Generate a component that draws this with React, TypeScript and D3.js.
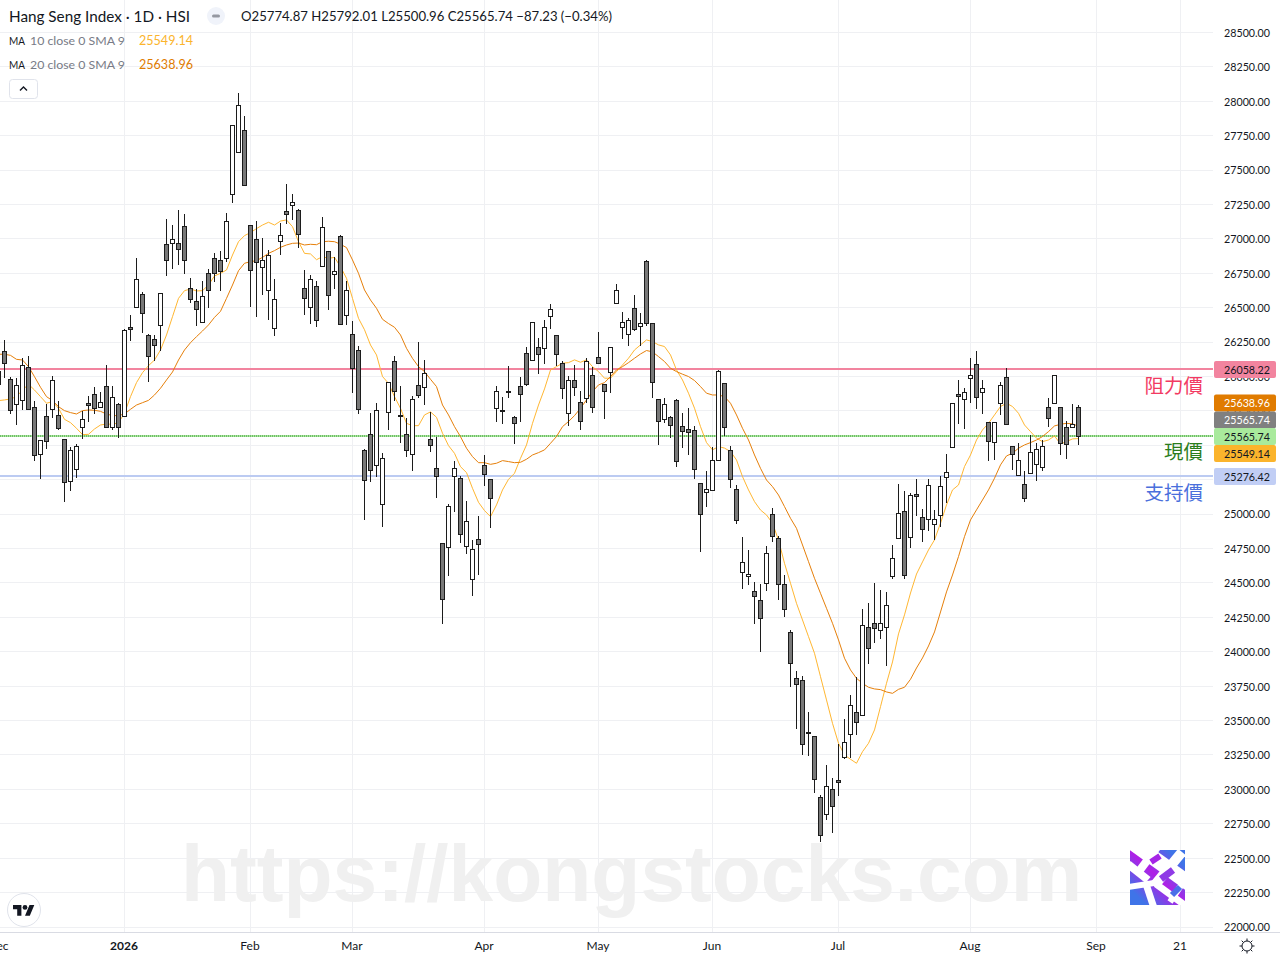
import * as React from 'react';
import * as d3 from 'd3';

// bars start one day before the left edge, one bar every 6px
const firstBar = -1;

const opens = [26033,26183,25980,25798,25825,26067,25777,25433,25711,25760,25718,25544,25236,25324,25629,25801,25871,25776,25929,25629,25798,25709,26358,26501,26598,26300,26271,26370,26961,26966,26968,27092,26641,26547,26392,26750,26859,
  26844,26859,27324,27627,27789,27099,26997,26791,26624,26348,26980,27201,27244,27208,26641,26503,26656,26798,26910,26743,27019,26445,26307,26191,
  25464,25580,25353,25069,25738,26111,25718,25580,25433,25936,25919,25544,25333,24788,24757,25273,25261,24764,24524,24817,25355,25253,25769,25755,25893,25704,25929,26169,26116,26212,
  26203,26438,26300,26097,25733,25973,25813,25842,26009,26140,25944,26031,26532,26358,26307,26496,26365,26838,26387,25835,25690,25704,25828,25639,25617,25610,25225,25159,25174,25389,25951,25464,25181,
  24577,24548,24439,24374,24498,25001,24824,24490,24142,23807,23793,23415,23386,22943,22819,23001,23066,23233,23400,23560,23538,24178,24207,24156,24178,
  24549,24825,25021,24832,25145,24977,24963,24927,24992,25268,25486,25871,25835,25987,26089,25886,25668,25522,25806,25995,25493,25283,25217,25297,25363,25341,25777,25806,25777,25631,25631,25774.87];
const highs = [26072,26266,25999,25990,26133,26150,25823,25539,25801,26002,25823,25544,25491,25508,25752,25859,25924,25888,26084,25929,25806,26343,26447,26862,26612,26309,26300,26605,27145,27101,27210,27181,26716,26636,26694,26779,26898,
  26912,27186,27825,28058,27893,27099,27130,27004,26920,26706,27113,27399,27326,27215,26772,26736,26694,27157,26910,26866,27029,26694,26404,26220,
  25470,25735,25806,25442,25958,26149,25931,25699,25859,26249,26120,25740,25563,24788,25074,25386,25278,25096,24812,24987,25430,25253,25931,25849,26077,25711,25997,26212,26399,26280,
  26411,26528,26300,26111,26005,26082,25895,26133,26067,26324,25944,26213,26673,26470,26424,26593,26462,26847,26387,25835,25842,25711,25835,25736,25770,25639,25225,25314,25486,26048,25951,25493,25210,
  24832,24737,24505,24493,24766,25043,24839,24556,24156,23858,23822,23563,23386,22960,23178,23081,23330,23512,23686,23817,24311,24355,24498,24449,24432,
  24776,25220,25169,25154,25256,25038,25256,25031,25275,25435,25806,25975,25915,26135,26186,25973,25668,25668,25961,26060,25493,25518,25314,25576,25518,25539,25845,26009,25777,25677,25801,25792.01];
const lows = [25902,25992,25728,25648,25757,25757,25389,25256,25474,25699,25612,25089,25169,25263,25549,25670,25728,25776,25629,25612,25554,25709,26258,26501,26319,25961,26113,26186,26731,26782,26811,26745,26535,26368,26392,26498,26687,
  26622,26835,27264,27622,27390,26505,26433,26593,26411,26295,26883,27109,27138,26934,26447,26382,26360,26798,26484,26636,26380,26375,25881,25728,
  24958,25234,25270,24907,25612,25822,25517,25416,25314,25847,25793,25452,25118,24202,24551,25016,24788,24713,24406,24558,25205,24900,25670,25655,25844,25510,25670,25930,26116,26019,
  26092,26346,26077,25837,25644,25859,25612,25806,25736,26097,25692,25881,26528,26273,26222,26331,26222,26368,25845,25503,25661,25554,25343,25479,25430,25256,24726,25053,25170,25389,25569,25191,24929,
  24459,24485,24202,24001,24442,24798,24376,24253,23744,23439,23250,23243,22974,22618,22778,22683,22952,23221,23228,23396,23538,23911,24064,24093,23897,
  24527,24822,24527,24757,24990,24801,24878,24813,24910,25079,25486,25656,25619,25808,25765,25728,25387,25394,25721,25653,25321,25283,25089,25297,25241,25314,25634,25806,25430,25401,25624,25500.96];
const closes = [25939,26094,25752,25936,26082,25762,25425,25537,25527,25973,25621,25229,25464,25493,25689,25786,25767,25813,25629,25849,25629,26336,26341,26707,26457,26145,26225,26605,26842,26997,26922,26842,26561,26486,26583,26624,26748,
  26762,27128,27825,27971,27390,26769,26830,26844,26881,26561,27026,27176,27266,27033,26568,26706,26406,27084,26588,26765,26380,26627,26057,25759,
  25244,25319,25755,25406,25958,25890,25709,25462,25835,25861,26023,25498,25273,24379,25057,25333,24851,24948,24745,24779,25287,25113,25893,25747,25890,25658,25868,25941,26394,26159,
  26358,26489,26162,25915,25973,25922,25675,26111,25777,26097,25893,26213,26627,26394,26409,26344,26387,26387,25958,25675,25799,25646,25384,25602,25595,25326,25000,25181,25392,26038,25631,25254,24956,
  24650,24563,24401,24241,24716,24837,24490,24309,23916,23764,23328,23408,23073,22667,23023,22877,23052,23342,23611,23488,24192,24025,24171,24207,24338,
  24680,25007,24556,25137,25130,24890,25210,24963,25203,25304,25806,25857,25886,26009,25849,25915,25530,25668,25937,25653,25435,25392,25116,25450,25472,25493,25697,26009,25515,25508,25653,25565.74];

const ma10 = [25825,25830,25837,25854,25902,25944,25902,25854,25806,25818,25769,25689,25665,25624,25578,25580,25619,25648,25655,25653,25665,25733,25854,25956,26028,26079,26120,26193,26302,26435,26568,26624,26636,26622,26624,26665,26731,26750,
  26774,26883,26980,27024,27046,27075,27101,27121,27101,27130,27138,27089,26980,26895,26891,26849,26871,26859,26866,26798,26714,26568,26423,26340,26229,26157,26000,25951,25854,25769,25660,25643,25643,25721,25743,25704,25588,25498,25442,25345,25302,25188,25086,25026,24982,25067,25176,25253,25297,25406,25503,25660,25793,25910,26048,26072,
  26097,26101,26121,26104,26121,26072,26036,25988,25988,26036,26084,26133,26193,26230,26266,26254,26230,26218,26157,26048,25975,25879,25770,25636,25520,25467,25491,25480,25455,25394,25273,25176,25091,25030,24994,24934,24812,24643,24498,24352,24231,24110,23989,23819,23650,23480,23335,23250,23219,23190,23274,23335,23432,23601,23771,23926,24130,24268,24427,24565,24653,24740,24813,24934,25067,25176,25212,25346,25430,25539,25612,25660,25721,25782,25806,25782,25733,25648,25600,25552,25527,25539,25568,25510,25527,25547,25549.14];
const ma20 = [26162,26162,26154,26125,26120,26072,25999,25922,25854,25825,25781,25752,25738,25728,25752,25757,25755,25747,25728,25716,25716,25728,25762,25793,25810,25827,25866,25915,25975,26033,26120,26193,26246,26290,26331,26375,26430,26474,
  26568,26665,26769,26823,26835,26842,26866,26895,26915,26939,26956,26968,26970,26956,26961,26958,26980,26983,26980,26961,26937,26847,26750,26629,26556,26496,26416,26385,26358,26302,26205,26132,26072,26036,25980,25927,25793,25721,25636,25563,25479,25418,25374,25374,25362,25370,25389,25382,25374,25377,25399,25430,25447,25467,25515,25564,
  25636,25673,25716,25770,25830,25891,25939,25956,26000,26048,26072,26101,26133,26164,26189,26179,26145,26109,26060,26036,26017,26000,25971,25927,25879,25866,25866,25854,25806,25721,25624,25539,25430,25333,25248,25200,25139,25055,24970,24897,24776,24655,24534,24425,24316,24207,24086,23953,23868,23807,23771,23742,23730,23725,23708,23698,23727,23742,23800,23882,23955,24042,24144,24289,24435,24558,24692,24837,24958,25031,25103,25176,25261,25358,25423,25443,25479,25503,25520,25539,25564,25600,25641,25653,25660,25656,25638.96];

const priceTicks = d3.range(22000, 28501, 250);
const timeTicks = [-1, 20, 41, 58, 80, 99, 118, 139, 161, 182, 196];
const timeLabels = ['Dec', '2026', 'Feb', 'Mar', 'Apr', 'May', 'Jun', 'Jul', 'Aug', 'Sep', '21'];

const resistance = 26058.22;
const support = 25276.42;
const lastClose = 25565.74;
const lastMa10 = 25549.14;
const lastMa20 = 25638.96;

const uiFont = 'Lato, "Noto Sans", sans-serif';
const cjkFont = '"Noto Sans CJK TC", sans-serif';
const ink = '#131722';
const gridColor = '#eff0f3';

const x = d3.scaleLinear().domain([0, 179]).range([4.5, 1078.5]);
const y = d3.scaleLinear().domain([22000, 28500]).range([927, 32.5]);
const crisp = (v: number) => Math.round(v - 0.5) + 0.5;

const App = () => {
  const ref = React.useRef<SVGSVGElement>(null);

  React.useEffect(() => {
    const svg = d3.select(ref.current);
    svg.selectAll('*').remove();

    const defs = svg.append('defs');
    const grad = defs
      .append('linearGradient')
      .attr('id', 'logo')
      .attr('x1', 0)
      .attr('y1', 0)
      .attr('x2', 1)
      .attr('y2', 0);
    grad.append('stop').attr('offset', '0%').attr('stop-color', '#3f74e8');
    grad.append('stop').attr('offset', '50%').attr('stop-color', '#b01fe6');
    grad.append('stop').attr('offset', '100%').attr('stop-color', '#3f74e8');
    grad.attr('gradientTransform', 'rotate(-45 .5 .5)');

    // grid
    const grid = svg.append('g').attr('stroke', gridColor).attr('stroke-width', 1);
    grid
      .selectAll('line.h')
      .data(priceTicks)
      .join('line')
      .attr('x1', 0)
      .attr('x2', 1213)
      .attr('y1', (d) => crisp(y(d)))
      .attr('y2', (d) => crisp(y(d)));
    grid
      .selectAll('line.v')
      .data(timeTicks.slice(1))
      .enter()
      .append('line')
      .attr('x1', (d) => x(d))
      .attr('x2', (d) => x(d))
      .attr('y1', 0)
      .attr('y2', 932);

    // watermark
    svg
      .append('text')
      .attr('x', 181)
      .attr('y', 901)
      .attr('font-family', '"Liberation Sans", Arial, sans-serif')
      .attr('font-weight', 700)
      .attr('font-size', 80.3)
      .attr('fill', '#f0f0f0')
      .text('https://kongstocks.com');

    // logo
    const logo = svg.append('g').attr('transform', 'translate(1130,850)');
    logo.append('rect').attr('width', 55).attr('height', 55).attr('fill', 'url(#logo)');
    const clip = defs.append('clipPath').attr('id', 'logoClip');
    clip.append('rect').attr('width', 55).attr('height', 55);
    const strokes = logo.append('g').attr('clip-path', 'url(#logoClip)').attr('fill', 'none');
    [
      { d: 'M4 -6L60 34', w: 15, c: '#fff' },
      { d: 'M-2 14L18 30', w: 8, c: '#fff' },
      { d: 'M28 -4L10 20', w: 8, c: '#fff' },
      { d: 'M52 2L24 36', w: 10, c: '#fff' },
      { d: 'M-2 37L24 33', w: 6, c: '#fff' },
      { d: 'M16 34L24 58', w: 7, c: '#fff' },
      { d: 'M26 34L56 56', w: 7, c: '#fff' },
      { d: 'M56 28L40 52', w: 6, c: '#fff' },
      { d: 'M21 12L30 6', w: 6, c: '#a526e6' },
      { d: 'M31 29L43 20', w: 7, c: '#8f3be6' },
      { d: 'M42 45L50 37', w: 6, c: '#4a6fe8' },
    ].forEach((s) => strokes.append('path').attr('d', s.d).attr('stroke', s.c).attr('stroke-width', s.w));

    // levels, under the candles
    const levels = svg.append('g');
    levels
      .append('line')
      .attr('x1', 0)
      .attr('x2', 1213)
      .attr('y1', Math.round(y(resistance)))
      .attr('y2', Math.round(y(resistance)))
      .attr('stroke', '#f2849f')
      .attr('stroke-width', 2);
    levels
      .append('line')
      .attr('x1', 0)
      .attr('x2', 1213)
      .attr('y1', Math.round(y(support)))
      .attr('y2', Math.round(y(support)))
      .attr('stroke', '#bccbf2')
      .attr('stroke-width', 2);
    levels
      .append('line')
      .attr('x1', 0)
      .attr('x2', 1213)
      .attr('y1', Math.floor(y(lastClose)))
      .attr('y2', Math.floor(y(lastClose)))
      .attr('stroke', '#a9ea9c')
      .attr('stroke-width', 2);
    levels
      .append('line')
      .attr('x1', 0)
      .attr('x2', 1213)
      .attr('y1', Math.floor(y(lastClose)))
      .attr('y2', Math.floor(y(lastClose)))
      .attr('stroke', '#3a8a3a')
      .attr('stroke-width', 1)
      .attr('stroke-dasharray', '1 1');

    // moving averages
    const line = d3
      .line<number>()
      .x((_, i) => x(i + firstBar))
      .y((d) => y(d));
    svg
      .append('path')
      .attr('d', line(ma10))
      .attr('fill', 'none')
      .attr('stroke', '#ffb732')
      .attr('stroke-width', 1);
    svg
      .append('path')
      .attr('d', line(ma20))
      .attr('fill', 'none')
      .attr('stroke', '#e67f0a')
      .attr('stroke-width', 1);

    // candles
    const candle = svg
      .append('g')
      .selectAll('g')
      .data(opens.map((o, i) => ({ i: i + firstBar, o, h: highs[i], l: lows[i], c: closes[i] })))
      .join('g');
    candle
      .append('rect')
      .attr('x', (d) => x(d.i) - 0.5)
      .attr('width', 1)
      .attr('y', (d) => Math.round(y(d.h)))
      .attr('height', (d) => Math.round(y(d.l)) - Math.round(y(d.h)))
      .attr('fill', '#1c1c1c');
    candle
      .append('rect')
      .attr('x', (d) => x(d.i) - 2)
      .attr('width', 4)
      .attr('y', (d) => crisp(y(Math.max(d.o, d.c))))
      .attr('height', (d) => Math.max(1, crisp(y(Math.min(d.o, d.c))) - crisp(y(Math.max(d.o, d.c)))))
      .attr('fill', (d) => (d.c >= d.o ? '#ffffff' : '#787878'))
      .attr('stroke', '#1c1c1c')
      .attr('stroke-width', 1);

    // axes
    svg
      .append('rect')
      .attr('x', 0)
      .attr('y', 932)
      .attr('width', 1280)
      .attr('height', 1)
      .attr('fill', '#d9dbe3');
    const rightAxis = svg
      .append('g')
      .attr('transform', 'translate(1213,0)')
      .call(
        d3
          .axisRight(y)
          .tickValues(priceTicks)
          .tickSize(0)
          .tickPadding(11)
          .tickFormat((d) => (d as number).toFixed(2))
      );
    rightAxis.select('.domain').remove();
    rightAxis
      .selectAll('text')
      .attr('font-family', uiFont)
      .attr('font-size', 12)
      .attr('textLength', 46)
      .attr('lengthAdjust', 'spacingAndGlyphs')
      .attr('fill', ink);

    const bottomAxis = svg
      .append('g')
      .attr('transform', 'translate(-1,932)')
      .call(
        d3
          .axisBottom(x)
          .tickValues(timeTicks)
          .tickSize(0)
          .tickPadding(9.5)
          .tickFormat((_, i) => timeLabels[i])
      );
    bottomAxis.select('.domain').remove();
    bottomAxis
      .selectAll('text')
      .attr('font-family', uiFont)
      .attr('font-size', 12)
      .attr('fill', ink)
      .attr('font-weight', (_, i) => (timeLabels[i] === '2026' ? 700 : 400));

    // price labels, stacked where they would collide
    const tags = [
      { v: resistance, bg: '#f2849f', fg: ink, at: 369.5 },
      { v: lastMa20, bg: '#e07b00', fg: '#ffffff', at: 403 },
      { v: lastClose, bg: '#808080', fg: '#ffffff', at: 420 },
      { v: lastClose, bg: '#a9ea9c', fg: ink, at: 436.5 },
      { v: lastMa10, bg: '#fbb42c', fg: ink, at: 453.5 },
      { v: support, bg: '#c1cef5', fg: ink, at: 476.5 },
    ];
    tags.forEach((t) => {
      svg
        .append('rect')
        .attr('x', 1214)
        .attr('y', t.at - 8.5)
        .attr('width', 62)
        .attr('height', 17)
        .attr('rx', 2)
        .attr('fill', t.bg);
      svg
        .append('text')
        .attr('x', 1224)
        .attr('y', t.at + 4)
        .attr('font-family', uiFont)
        .attr('font-size', 12)
        .attr('textLength', 46)
        .attr('lengthAdjust', 'spacingAndGlyphs')
        .attr('fill', t.fg)
        .text(t.v.toFixed(2));
    });

    // level notes
    [
      { s: '阻力價', yy: 393, c: '#f23a62' },
      { s: '現價', yy: 459, c: '#2b7d1c' },
      { s: '支持價', yy: 500, c: '#4a6fdc' },
    ].forEach((n) => {
      svg
        .append('text')
        .attr('x', 1203)
        .attr('y', n.yy)
        .attr('text-anchor', 'end')
        .attr('font-family', cjkFont)
        .attr('font-size', 19.5)
        .attr('fill', n.c)
        .text(n.s);
    });

    // header
    const head = (s: string, xx: number, yy: number, size: number, fill: string, len?: number) => {
      const t = svg
        .append('text')
        .attr('x', xx)
        .attr('y', yy)
        .attr('font-family', uiFont)
        .attr('font-size', size)
        .attr('fill', fill)
        .text(s);
      if (len) t.attr('textLength', len).attr('lengthAdjust', 'spacingAndGlyphs');
    };
    head('Hang Seng Index · 1D · HSI', 9, 21.5, 15, ink, 181);
    head('O25774.87 H25792.01 L25500.96 C25565.74 −87.23 (−0.34%)', 241, 21, 12.5, ink, 371);
    head('MA', 9, 45, 12, ink, 16);
    head('10 close 0 SMA 9', 30, 45, 12, '#787b86', 95);
    head('25549.14', 139, 45, 12.5, '#fbb42c', 54);
    head('MA', 9, 69, 12, ink, 16);
    head('20 close 0 SMA 9', 30, 69, 12, '#787b86', 95);
    head('25638.96', 139, 69, 12.5, '#e07b00', 54);

    // lock pill
    svg.append('rect').attr('x', 207).attr('y', 7).attr('width', 18).attr('height', 18).attr('rx', 9).attr('fill', '#f0f3fa');
    svg.append('rect').attr('x', 212).attr('y', 14.5).attr('width', 8).attr('height', 3).attr('rx', 1.5).attr('fill', '#9598a1');

    // collapse button
    svg
      .append('rect')
      .attr('x', 9.5)
      .attr('y', 79.5)
      .attr('width', 28)
      .attr('height', 19)
      .attr('rx', 3)
      .attr('fill', '#fff')
      .attr('stroke', '#e0e3eb');
    svg
      .append('path')
      .attr('d', 'M20 90.5L23.5 87L27 90.5')
      .attr('fill', 'none')
      .attr('stroke', ink)
      .attr('stroke-width', 1.4);

    // tv badge
    svg
      .append('circle')
      .attr('cx', 24)
      .attr('cy', 910)
      .attr('r', 16.5)
      .attr('fill', '#fff')
      .attr('stroke', '#e0e3eb');
    const tv = svg.append('g').attr('transform', 'translate(13,902.6) scale(0.6)').attr('fill', ink);
    tv.append('path').attr('d', 'M14 22H7V11H0V4h14v18zM28 22h-8l7.5-18h8L28 22z');
    tv.append('circle').attr('cx', 20).attr('cy', 8).attr('r', 4);

    // settings sun
    const sun = svg.append('g').attr('transform', 'translate(1247,946)').attr('stroke', ink).attr('fill', 'none');
    sun.append('circle').attr('r', 5);
    d3.range(0, 8).forEach((k) => {
      const a = (k * Math.PI) / 4;
      sun
        .append('line')
        .attr('x1', 5 * Math.cos(a))
        .attr('y1', 5 * Math.sin(a))
        .attr('x2', 7.5 * Math.cos(a))
        .attr('y2', 7.5 * Math.sin(a));
    });
  }, []);

  return (
    <svg
      ref={ref}
      width={1280}
      height={960}
      style={{ position: 'fixed', left: 0, top: 0, background: '#fff' }}
    />
  );
};

export default App;
